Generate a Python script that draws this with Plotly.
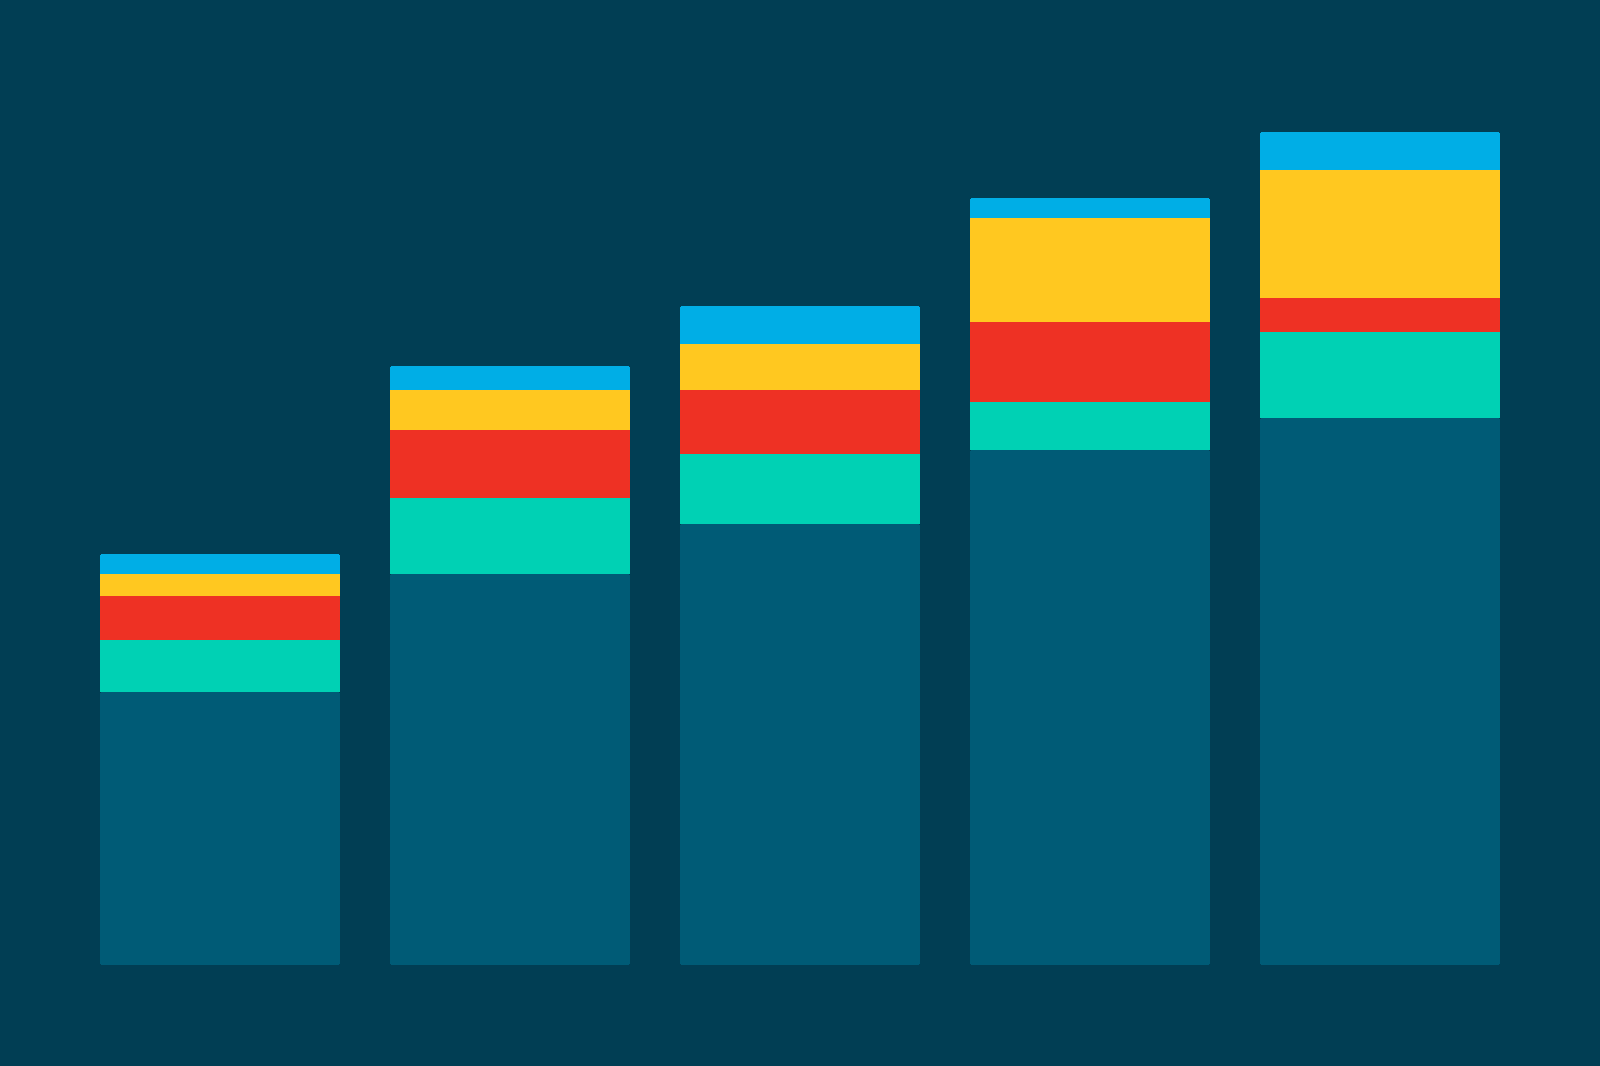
import plotly.graph_objects as go

categories = ["A", "B", "C", "D", "E"]
base = [27.3, 39.1, 44.1, 51.5, 54.7]
teal = [5.2, 7.6, 7.0, 4.8, 8.6]
red = [4.4, 6.8, 6.4, 8.0, 3.4]
yellow = [2.2, 4.0, 4.6, 10.4, 12.8]
blue = [2.0, 2.4, 3.8, 2.0, 3.8]

dark_color = "#005B76"
series = [
    ("Teal", teal, "#00D1B4"),
    ("Red", red, "#EE3124"),
    ("Yellow", yellow, "#FFC820"),
    ("Blue", blue, "#00AEE6"),
]

fig = go.Figure()
# invisible spacer so the coloured segments stack on top of the base
fig.add_trace(go.Bar(
    x=categories, y=base, name="spacer", hoverinfo="skip",
    marker=dict(color="rgba(0,0,0,0)", line=dict(width=0)),
))
for name, vals, color in series:
    fig.add_trace(go.Bar(
        x=categories, y=vals, name=name,
        marker=dict(color=color, line=dict(width=0)),
    ))
# base segment drawn downward from its top so its bottom corners are rounded
fig.add_trace(go.Bar(
    x=categories, y=[-v for v in base], base=base, name="Base",
    marker=dict(color=dark_color, line=dict(width=0), cornerradius=3),
))

bg = "#013E54"
fig.update_layout(
    width=1600, height=1066,
    barmode="stack",
    bargap=50 / 290,
    barcornerradius=3,
    paper_bgcolor=bg, plot_bgcolor=bg,
    margin=dict(l=100, r=100, t=65, b=101),
    showlegend=False,
    xaxis=dict(visible=False, range=[-0.5 + 25 / 290, 4.5 - 25 / 290]),
    yaxis=dict(visible=False, range=[0, 90]),
)
fig.write_html(
    "out.html",
    config={"displayModeBar": False},
    post_script="document.body.style.margin='0';document.body.style.background='%s';" % bg,
)
